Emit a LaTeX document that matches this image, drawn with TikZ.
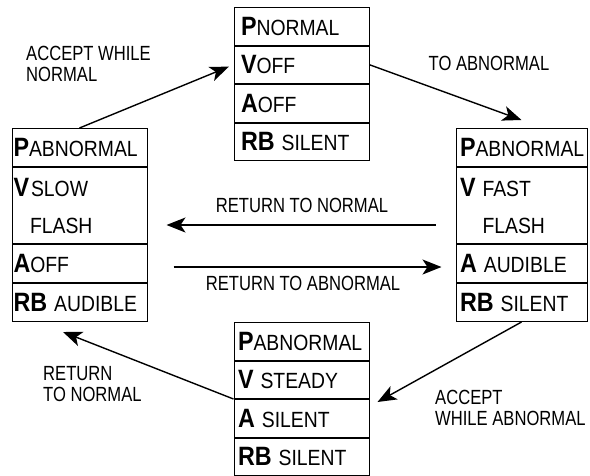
\documentclass[tikz,border=0pt]{standalone}
\usepackage{fontspec}
\setmainfont[FakeStretch=0.81]{Liberation Sans}
\newfontfamily\boxfont[FakeStretch=0.88]{Liberation Sans}
\usetikzlibrary{positioning,arrows.meta}

\newcommand{\sig}[1]{{\fontsize{26.5}{26.5}\selectfont\bfseries #1}}
\newcommand{\gap}{\hspace{7pt}}

\tikzset{
  slot/.style={draw, line width=1pt, text width=125pt, inner xsep=5pt, inner ysep=0pt,
    minimum height=37.5pt, align=left, font=\boxfont\fontsize{22}{22}\selectfont},
  side/.style={slot, minimum height=38pt},
  tall/.style={slot, minimum height=76pt},
  lbox/.style={text width=132pt, inner xsep=1.5pt},
  tbox/.style={text width=121pt, inner xsep=7pt},
  rbox/.style={text width=123pt, inner xsep=4pt},
  bbox/.style={text width=127pt, inner xsep=4pt},
  lbl/.style={inner sep=0pt, font=\fontsize{20.5}{21}\selectfont},
  arr/.style={line width=1.4pt, -{Stealth[length=19pt,width=15pt,inset=5pt]}}
}

\begin{document}
\begin{tikzpicture}[x=1pt,y=-1pt]
  \useasboundingbox (0,0) rectangle (590,475);

  % normal state
  \node[slot, tbox, anchor=north] (tp) at (301.5,7) {\sig{P}NORMAL};
  \node[slot, tbox, below=0pt of tp] (tv) {\sig{V}OFF};
  \node[slot, tbox, below=0pt of tv] (ta) {\sig{A}OFF};
  \node[slot, tbox, below=0pt of ta] (trb) {\sig{RB}\gap SILENT};

  % accepted abnormal, slow flash
  \node[side, lbox, anchor=north] (lp) at (79.5,128) {\sig{P}ABNORMAL};
  \node[tall, lbox, below=0pt of lp] (lv) {\sig{V}\kern2pt SLOW\\[15pt]\phantom{\sig{V}}\kern1pt FLASH};
  \node[side, lbox, below=0pt of lv] (la) {\sig{A}OFF};
  \node[side, lbox, below=0pt of la] (lrb) {\sig{RB}\gap AUDIBLE};

  % new abnormal, fast flash
  \node[side, rbox, anchor=north] (rp) at (521.5,128) {\sig{P}ABNORMAL};
  \node[tall, rbox, below=0pt of rp] (rv) {\sig{V}\gap FAST\\[15pt]\phantom{\sig{V}}\gap FLASH};
  \node[side, rbox, below=0pt of rv] (ra) {\sig{A}\gap AUDIBLE};
  \node[side, rbox, below=0pt of ra] (rrb) {\sig{RB}\gap SILENT};

  % acknowledged abnormal, steady
  \node[slot, bbox, anchor=north] (bp) at (301.5,322) {\sig{P}ABNORMAL};
  \node[slot, bbox, below=0pt of bp] (bv) {\sig{V}\gap STEADY};
  \node[slot, bbox, below=0pt of bv] (ba) {\sig{A}\gap SILENT};
  \node[slot, bbox, below=0pt of ba] (brb) {\sig{RB}\gap SILENT};

  % transitions
  \draw[arr, shorten >=5pt] (lp.north) -- (tv.west);
  \draw[arr] (tv.east) -- ([yshift=8pt]rp.north);
  \draw[arr, shorten <=20pt, shorten >=19pt] ([yshift=19pt]rv.south west) -- ([yshift=19pt]lv.south east);
  \draw[arr, shorten <=26pt, shorten >=14pt] ([yshift=-23pt]lv.south east) -- ([yshift=-23pt]rv.south west);
  \draw[arr] (rrb.south) -- ([xshift=8pt,yshift=-3pt]bv.south east);
  \draw[arr] (bv.south west) -- ([xshift=-16.5pt,yshift=-10pt]lrb.south);

  \node[lbl, anchor=west, align=left] (accn) at (26,64) {ACCEPT WHILE\\NORMAL};
  \node[lbl] (toab) at (489,63) {TO ABNORMAL};
  \node[lbl] (retn) at (302,205) {RETURN TO NORMAL};
  \node[lbl] (retab) at (303,283) {RETURN TO ABNORMAL};
  \node[lbl, anchor=west, align=left] (acca) at (435,408) {ACCEPT\\WHILE ABNORMAL};
  \node[lbl, anchor=west, align=left] (retn2) at (43,384) {RETURN\\TO NORMAL};
\end{tikzpicture}
\end{document}
